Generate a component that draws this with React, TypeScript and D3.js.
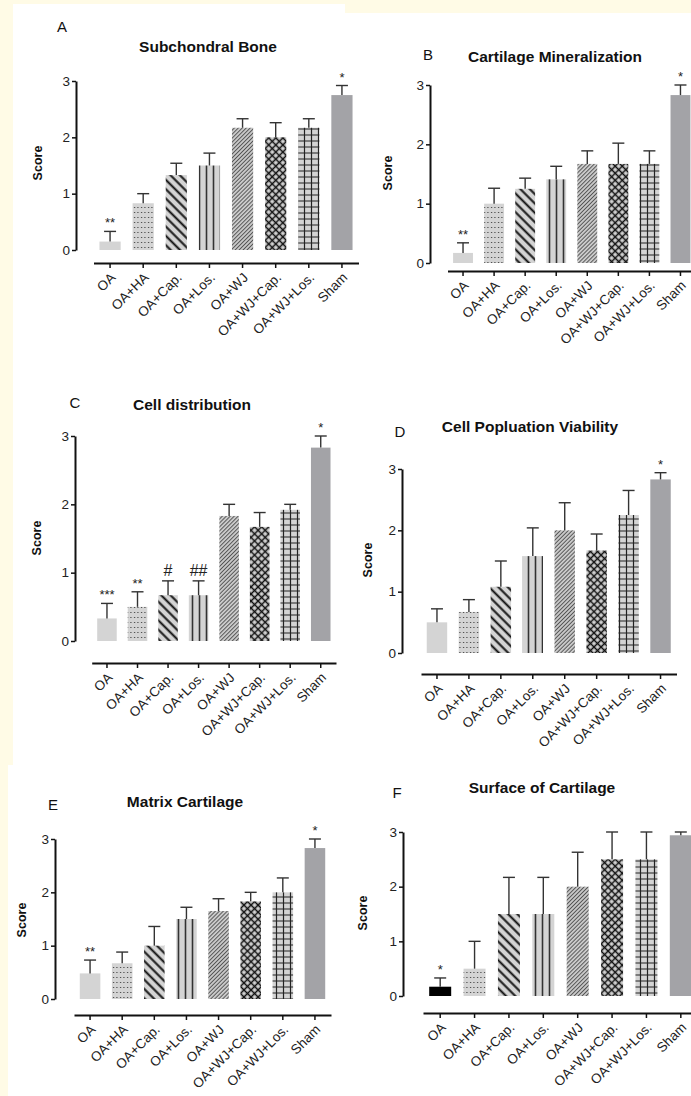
import React, { useEffect, useRef } from 'react';
import * as d3 from 'd3';

const groups = ['OA', 'OA+HA', 'OA+Cap.', 'OA+Los.', 'OA+WJ', 'OA+WJ+Cap.', 'OA+WJ+Los.', 'Sham'];
const fills = ['solid', 'dots', 'diagBack', 'vlines', 'diagFine', 'cross', 'grid', 'sham'];
const yTicks = [0, 1, 2, 3];

const subchondralMean = [0.15, 0.83, 1.33, 1.5, 2.17, 2.0, 2.17, 2.75];
const subchondralSem = [0.18, 0.17, 0.21, 0.22, 0.16, 0.26, 0.16, 0.17];
const subchondralMarks = ['**', '', '', '', '', '', '', '*'];

const mineralMean = [0.17, 1.0, 1.25, 1.41, 1.67, 1.67, 1.67, 2.83];
const mineralSem = [0.17, 0.26, 0.18, 0.22, 0.22, 0.35, 0.22, 0.17];
const mineralMarks = ['**', '', '', '', '', '', '', '*'];

const distributionMean = [0.33, 0.5, 0.67, 0.67, 1.83, 1.67, 1.92, 2.83];
const distributionSem = [0.22, 0.22, 0.21, 0.21, 0.17, 0.21, 0.08, 0.17];
const distributionMarks = ['***', '**', '#', '##', '', '', '', '*'];

const viabilityMean = [0.5, 0.67, 1.08, 1.58, 2.0, 1.67, 2.25, 2.83];
const viabilitySem = [0.22, 0.2, 0.42, 0.46, 0.45, 0.27, 0.4, 0.11];
const viabilityMarks = ['', '', '', '', '', '', '', '*'];

const matrixMean = [0.48, 0.67, 1.0, 1.5, 1.65, 1.83, 2.0, 2.83];
const matrixSem = [0.25, 0.21, 0.36, 0.22, 0.23, 0.17, 0.27, 0.17];
const matrixMarks = ['**', '', '', '', '', '', '', '*'];

const surfaceMean = [0.17, 0.5, 1.5, 1.5, 2.0, 2.5, 2.5, 2.94];
const surfaceSem = [0.16, 0.5, 0.67, 0.67, 0.63, 0.5, 0.5, 0.06];
const surfaceMarks = ['*', '', '', '', '', '', '', ''];

// layout of each panel (axis positions, label anchors)
const panels = [
  { letter: 'A', title: 'Subchondral Bone', mean: subchondralMean, sem: subchondralSem, marks: subchondralMarks,
    ax: 76, yTop: 81, yBot: 250, x0: 93.5, x1: 358.5, axY: 263, tx: 208, ty: 47, lx: 62, ly: 27, sx: 38, sy: 163 },
  { letter: 'B', title: 'Cartilage Mineralization', mean: mineralMean, sem: mineralSem, marks: mineralMarks,
    ax: 430, yTop: 85, yBot: 263, x0: 447.5, x1: 696, axY: 271, tx: 555, ty: 57, lx: 428, ly: 55, sx: 388, sy: 173 },
  { letter: 'C', title: 'Cell distribution', mean: distributionMean, sem: distributionSem, marks: distributionMarks,
    ax: 75, yTop: 436, yBot: 641, x0: 91.7, x1: 336, axY: 663, tx: 192, ty: 405, lx: 75, ly: 403, sx: 37, sy: 538 },
  { letter: 'D', title: 'Cell Popluation Viability', mean: viabilityMean, sem: viabilitySem, marks: viabilityMarks,
    ax: 402, yTop: 469, yBot: 653, x0: 421, x1: 676.5, axY: 674, tx: 530, ty: 427, lx: 400, ly: 432, sx: 368, sy: 560 },
  { letter: 'E', title: 'Matrix Cartilage', mean: matrixMean, sem: matrixSem, marks: matrixMarks,
    ax: 55, yTop: 839, yBot: 999, x0: 74, x1: 331, axY: 1015, tx: 185, ty: 802, lx: 53, ly: 805, sx: 22, sy: 920 },
  { letter: 'F', title: 'Surface of Cartilage', mean: surfaceMean, sem: surfaceSem, marks: surfaceMarks,
    ax: 403, yTop: 832, yBot: 996, x0: 423, x1: 698, axY: 1013, tx: 542, ty: 788, lx: 397, ly: 793, sx: 363, sy: 913 },
];

const FONT = 'Arial, "Liberation Sans", sans-serif';
const LIGHT = '#d4d4d4';

export default function App() {
  const ref = useRef(null);

  useEffect(() => {
    const svg = d3.select(ref.current);
    svg.selectAll('*').remove();

    const defs = svg.append('defs');
    const pat = (id, w, h, rot) => {
      const p = defs.append('pattern').attr('id', id).attr('patternUnits', 'userSpaceOnUse')
        .attr('width', w).attr('height', h);
      if (rot) p.attr('patternTransform', `rotate(${rot})`);
      p.append('rect').attr('width', w).attr('height', h).attr('fill', LIGHT);
      return p;
    };
    const dots = pat('dots', 3.5, 5);
    dots.append('rect').attr('x', 1).attr('y', 2).attr('width', 1).attr('height', 1).attr('fill', '#222');
    const back = pat('diagBack', 6.6, 6.6, -45);
    back.append('line').attr('x1', 3.3).attr('x2', 3.3).attr('y1', 0).attr('y2', 6.6).attr('stroke', '#111').attr('stroke-width', 2);
    const vl = pat('vlines', 7, 7);
    vl.append('line').attr('x1', 3.5).attr('x2', 3.5).attr('y1', 0).attr('y2', 7).attr('stroke', '#333').attr('stroke-width', 1.6);
    const fine = pat('diagFine', 2.8, 2.8, 45);
    fine.append('line').attr('x1', 1.4).attr('x2', 1.4).attr('y1', 0).attr('y2', 2.8).attr('stroke', '#555').attr('stroke-width', 1.1);
    const cross = pat('cross', 5, 5, 45);
    cross.append('path').attr('d', 'M2.5,0V5M0,2.5H5').attr('stroke', '#111').attr('stroke-width', 1.5);
    const grid = pat('grid', 7, 6);
    grid.append('path').attr('d', 'M3.5,0V6M0,3H7').attr('stroke', '#222').attr('stroke-width', 1.2);

    // page background and white panel boxes
    svg.append('rect').attr('width', 691).attr('height', 1096).attr('fill', '#fffbe6');
    svg.append('rect').attr('x', 13).attr('y', 4).attr('width', 332).attr('height', 761).attr('fill', '#fff');
    svg.append('rect').attr('x', 345).attr('y', 13).attr('width', 346).attr('height', 752).attr('fill', '#fff');
    svg.append('rect').attr('x', 8).attr('y', 765).attr('width', 683).attr('height', 331).attr('fill', '#fff');

    panels.forEach((p, pi) => {
      const g = svg.append('g').attr('font-family', FONT);
      const y = d3.scaleLinear().domain([0, 3]).range([p.yBot, p.yTop]);
      const x = d3.scaleBand().domain(groups).range([p.x0, p.x1]).paddingInner(0.36).paddingOuter(0.18);
      const data = groups.map((k, i) => ({ k, m: p.mean[i], s: p.sem[i], mark: p.marks[i], fill: fills[i] }));

      const fillOf = (d) => {
        if (d.fill === 'solid') return pi === 5 ? '#000' : LIGHT;
        if (d.fill === 'sham') return '#a3a3a7';
        return `url(#${d.fill})`;
      };

      g.selectAll('rect.bar').data(data).enter().append('rect')
        .attr('class', 'bar')
        .attr('x', (d) => x(d.k))
        .attr('y', (d) => y(d.m))
        .attr('width', x.bandwidth())
        .attr('height', (d) => y(0) - y(d.m))
        .attr('fill', fillOf);

      const eb = g.selectAll('g.err').data(data).enter().append('g').attr('class', 'err')
        .attr('stroke', '#333').attr('stroke-width', 1.4);
      eb.append('line')
        .attr('x1', (d) => x(d.k) + x.bandwidth() / 2).attr('x2', (d) => x(d.k) + x.bandwidth() / 2)
        .attr('y1', (d) => y(d.m)).attr('y2', (d) => y(d.m + d.s));
      eb.append('line')
        .attr('x1', (d) => x(d.k) + x.bandwidth() / 2 - 6).attr('x2', (d) => x(d.k) + x.bandwidth() / 2 + 6)
        .attr('y1', (d) => y(d.m + d.s)).attr('y2', (d) => y(d.m + d.s));

      g.selectAll('text.mark').data(data.filter((d) => d.mark)).enter().append('text')
        .attr('class', 'mark')
        .attr('x', (d) => x(d.k) + x.bandwidth() / 2)
        .attr('y', (d) => y(d.m + d.s) - (d.mark.includes('#') ? 5 : 4))
        .attr('text-anchor', 'middle')
        .attr('font-size', (d) => (d.mark.includes('#') ? 16 : 13))
        .attr('fill', '#222')
        .text((d) => d.mark);

      const ya = g.append('g').attr('transform', `translate(${p.ax},0)`)
        .call(d3.axisLeft(y).tickValues(yTicks).tickFormat(d3.format('d')).tickSize(4).tickPadding(2).tickSizeOuter(0));
      ya.select('.domain').attr('stroke', '#111').attr('stroke-width', 2);
      ya.selectAll('.tick line').attr('stroke', '#111').attr('stroke-width', 1.5);
      ya.selectAll('.tick text').attr('font-size', 13.5).attr('font-family', FONT).attr('fill', '#222');

      const xa = g.append('g').attr('transform', `translate(0,${p.axY})`)
        .call(d3.axisBottom(x).tickSize(5).tickSizeOuter(0));
      xa.select('.domain').attr('stroke', '#111').attr('stroke-width', 2);
      xa.selectAll('.tick line').attr('stroke', '#111').attr('stroke-width', 1.5);
      xa.selectAll('.tick text')
        .attr('font-size', 13.5).attr('font-family', FONT).attr('fill', '#222')
        .attr('text-anchor', 'end').attr('x', 0).attr('y', 0).attr('dy', '0.35em')
        .attr('transform', 'translate(3,12) rotate(-45)');

      g.append('text').attr('x', p.tx).attr('y', p.ty).attr('dy', '0.35em')
        .attr('text-anchor', 'middle').attr('font-weight', 'bold').attr('font-size', 15.5)
        .attr('fill', '#111').text(p.title);
      g.append('text').attr('x', p.lx).attr('y', p.ly).attr('dy', '0.35em')
        .attr('text-anchor', 'middle').attr('font-size', 15).attr('fill', '#111').text(p.letter);
      g.append('text').attr('transform', `translate(${p.sx},${p.sy}) rotate(-90)`).attr('dy', '0.35em')
        .attr('text-anchor', 'middle').attr('font-weight', 'bold').attr('font-size', 12.5)
        .attr('fill', '#111').text('Score');
    });
  }, []);

  return (
    <div style={{ position: 'absolute', left: 0, top: 0 }}>
      <svg ref={ref} width={691} height={1096} style={{ display: 'block' }}></svg>
    </div>
  );
}
